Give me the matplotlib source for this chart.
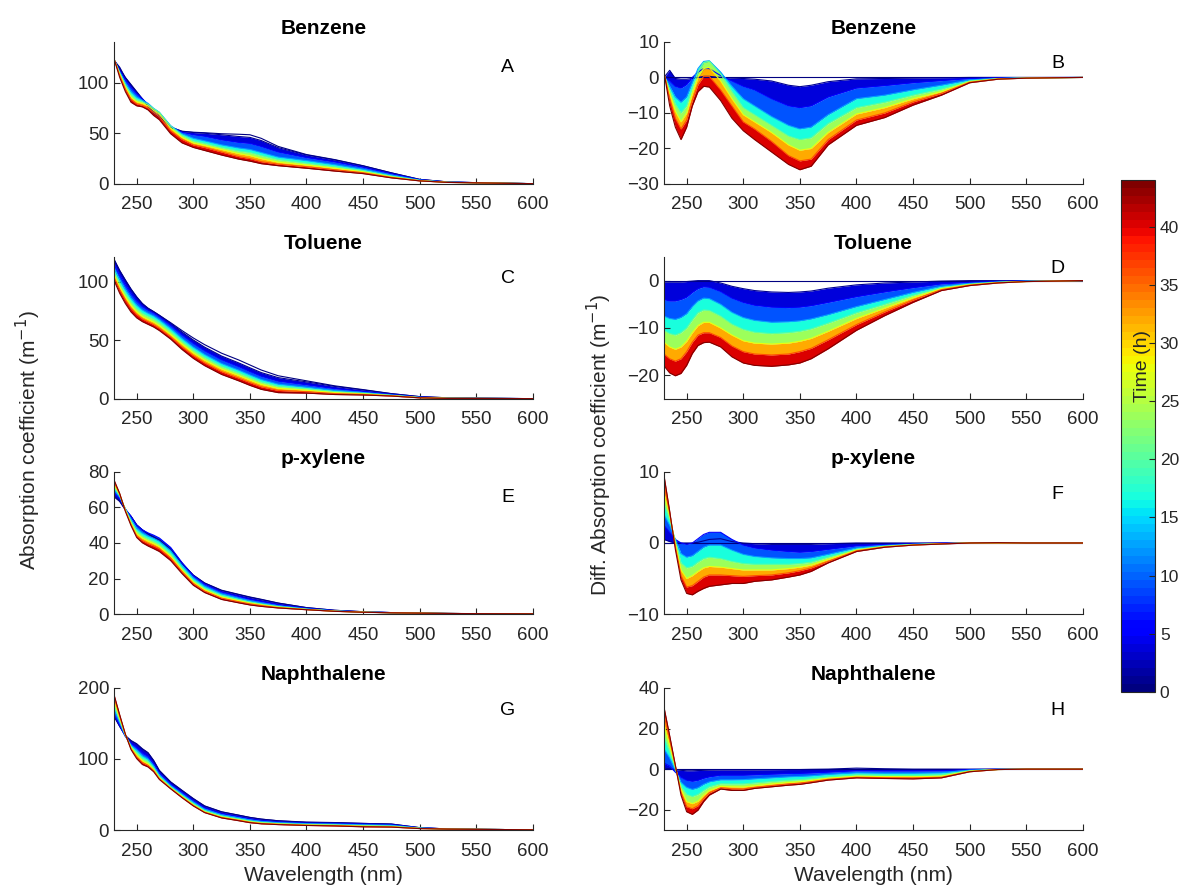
import numpy as np
import matplotlib.pyplot as plt
from matplotlib.colors import Normalize
from matplotlib.cm import ScalarMappable

plt.rcParams['font.family'] = ['Liberation Sans', 'DejaVu Sans']

# wavelengths (nm) at which the spectra were read
wavelength = [230, 235, 240, 245, 250, 255, 260, 265, 270, 280, 290, 300, 310, 325,
              340, 350, 360, 375, 400, 425, 450, 475, 500, 525, 550, 600]
# irradiation times (h) of the drawn curves after t = 0
times = [1, 6, 13, 20, 28, 36, 44]
t_max = 44

# absorption spectra at t = 0 (m^-1)
benzene_t0 = [122, 113, 105, 98, 91, 84, 77, 70, 66, 56, 52, 51, 50.5, 49.5,
              49, 48.5, 45, 37, 29, 24, 18, 11, 4.5, 2, 1.3, 0.3]
toluene_t0 = [119, 109.5, 101.4, 93.7, 87, 81.3, 77.3, 74.4, 71.3, 65, 58.3, 52, 46.3, 39,
              33.3, 29, 24.7, 19.8, 15.5, 11.2, 8, 4.6, 2, 1.0, 0.7, 0.3]
pxylene_t0 = [66, 63.4, 58.7, 55, 50.2, 47.4, 45.1, 43.2, 41.3, 36, 28.5, 21.9, 17.5, 13.4,
              11.1, 9.6, 8.3, 6.2, 3.6, 2.1, 1.3, 0.8, 0.5, 0.3, 0.2, 0.1]
naphthalene_t0 = [160, 145.8, 133, 126, 121.5, 114.5, 109, 98, 84, 67.8, 56, 44.4, 34, 25.7,
                  21, 17.8, 15.4, 13, 10.7, 10.3, 9.3, 8.4, 3.3, 1.5, 1.0, 0.3]

# difference spectra A(t) - A(0), one row per entry of `times`
benzene_diff = [
    [0, 2.0, -0.3, -0.5, -0.5, -0.3, 0, 0.3, 0.3, 0, -0.2, -0.3, -0.5, -1.0, -2.2, -2.6, -2.2, -1.2, -0.4, -0.3, -0.2, -0.1, 0, 0, 0, 0],
    [0.2, -1.0, -2.5, -3.0, -2.0, 0, 1.5, 2.5, 2.5, 0.5, -1.0, -2.5, -3.5, -6.0, -8.0, -8.5, -8.0, -5.5, -3.0, -2.3, -1.5, -0.9, -0.3, -0.1, -0.05, 0],
    [0.5, -2.5, -5.5, -7.0, -5.5, -1.5, 2.5, 4.5, 4.7, 1.5, -2.5, -6.0, -8.0, -11.0, -13.5, -14.5, -14.0, -10.5, -6.0, -5.0, -3.5, -2.2, -0.7, -0.3, -0.1, 0],
    [0.8, -3.5, -7.5, -10.0, -8.0, -3.0, 1.5, 4.2, 4.6, 1.0, -4.0, -8.5, -10.5, -13.5, -16.5, -17.5, -17.0, -13.0, -8.5, -7.0, -5.0, -3.3, -1.0, -0.35, -0.15, 0],
    [1.0, -4.5, -9.5, -12.5, -10.0, -4.5, 0, 2.5, 2.8, -1.0, -6.0, -10.5, -12.5, -15.5, -19.0, -20.5, -20.0, -15.5, -10.3, -8.5, -6.0, -4.0, -1.2, -0.4, -0.2, 0],
    [1.2, -6.0, -11.5, -14.5, -12.0, -6.5, -2.0, 0.3, 0.3, -3.5, -8.0, -12.5, -14.5, -18.0, -22.0, -23.5, -23.0, -17.5, -12.0, -10.0, -6.9, -4.5, -1.35, -0.45, -0.2, 0],
    [1.5, -8.0, -14.0, -17.5, -14.0, -8.0, -4.0, -2.5, -2.7, -6.5, -11.5, -15.0, -17.5, -21.0, -24.5, -26.0, -25.0, -19.0, -13.5, -11.3, -7.8, -5.0, -1.5, -0.5, -0.2, 0],
]
toluene_diff = [
    [-0.3, -0.3, -0.3, -0.3, -0.2, -0.1, 0, 0, 0, -0.5, -1.2, -1.7, -2.1, -2.4, -2.5, -2.4, -2.2, -1.6, -0.9, -0.5, -0.3, -0.1, 0, 0, 0, 0],
    [-4, -4.3, -4.3, -4, -3.5, -2.5, -1.7, -1.3, -1.4, -2.3, -3.7, -4.6, -5.2, -5.6, -5.7, -5.6, -5.3, -4.6, -3.4, -2.4, -1.5, -0.7, -0.35, -0.15, -0.05, 0],
    [-7.5, -8, -8.2, -7.8, -7, -5.5, -4.3, -3.7, -3.8, -5, -6.7, -7.8, -8.4, -8.8, -8.7, -8.5, -8.1, -7.2, -5.5, -4, -2.5, -1.2, -0.6, -0.3, -0.1, 0],
    [-10.5, -11.2, -11.5, -11, -10, -8.3, -6.8, -6.2, -6.3, -7.5, -9.2, -10.3, -10.9, -11.2, -11, -10.7, -10.2, -9, -6.8, -5, -3.1, -1.5, -0.75, -0.35, -0.15, 0],
    [-13, -14, -14.5, -14, -12.8, -11, -9.5, -8.8, -8.8, -10, -11.5, -12.7, -13.2, -13.4, -13.2, -12.8, -12.2, -10.7, -8, -5.8, -3.6, -1.7, -0.85, -0.4, -0.2, 0],
    [-15.5, -16.5, -17, -16.5, -15, -13, -11.5, -11, -11, -12, -13.8, -15, -15.5, -15.7, -15.5, -15, -14.3, -12.5, -9.3, -6.6, -4.1, -1.9, -0.95, -0.45, -0.2, 0],
    [-18, -19.5, -20.1, -19.6, -17.9, -15.4, -13.7, -13.1, -13, -14, -16.1, -17.4, -17.9, -18.1, -17.8, -17.4, -16.5, -14.4, -10.5, -7.4, -4.6, -2.1, -1.05, -0.5, -0.2, 0],
]
pxylene_diff = [
    [0.5, 0.2, 0, 0, 0, 0, 0.1, 0.3, 0.5, 0.6, 0.2, 0, -0.1, -0.2, -0.2, -0.2, -0.2, -0.1, 0, 0, 0, 0, 0, 0, 0, 0],
    [2.5, 1.5, 0.5, 0, -0.2, 0, 0.6, 1.2, 1.5, 1.5, 0.5, -0.3, -0.7, -1.0, -1.2, -1.3, -1.2, -0.9, -0.4, -0.2, -0.1, 0, 0, 0, 0, 0],
    [4, 2.5, 0.5, -1.5, -2, -1.8, -1.2, -0.6, -0.3, -0.3, -1, -1.6, -1.9, -2.1, -2.2, -2.2, -2.1, -1.6, -0.7, -0.35, -0.2, -0.1, 0, 0, 0, 0],
    [5.5, 3.3, 0.3, -2.8, -3.5, -3.3, -2.7, -2.2, -2, -2.2, -2.6, -2.9, -3.0, -3.0, -3.0, -2.9, -2.7, -2.0, -0.9, -0.45, -0.2, -0.1, 0, 0, 0, 0],
    [7, 3.8, 0, -3.8, -5, -4.6, -4, -3.5, -3.3, -3.4, -3.6, -3.8, -3.8, -3.8, -3.6, -3.4, -3.1, -2.3, -1.0, -0.5, -0.25, -0.1, 0, 0, 0, 0],
    [8.3, 4.2, -0.5, -4.6, -6.2, -6, -5.4, -4.8, -4.5, -4.5, -4.6, -4.7, -4.6, -4.5, -4.2, -3.9, -3.5, -2.6, -1.1, -0.55, -0.3, -0.1, 0, 0, 0, 0],
    [9.5, 4.5, -0.9, -5.2, -7.1, -7.3, -6.8, -6.4, -6.1, -5.9, -5.7, -5.7, -5.4, -5.2, -4.8, -4.5, -4.0, -2.8, -1.2, -0.6, -0.3, -0.15, 0, 0.05, 0, 0],
]
naphthalene_diff = [
    [0.5, 0.2, -0.3, -0.6, -0.8, -0.8, -0.7, -0.6, -0.5, -0.4, -0.4, -0.4, -0.4, -0.3, -0.2, -0.2, -0.1, 0, 0.5, 0.2, 0, 0, 0, 0, 0, 0],
    [3, 1.5, -1.5, -4, -5.5, -6, -5.5, -4.5, -3.8, -3, -3, -3, -2.8, -2.5, -2.2, -2.1, -1.9, -1.5, -0.8, -0.9, -0.9, -0.8, -0.2, 0, 0, 0],
    [10, 5.5, -0.5, -6.5, -9, -10, -9.2, -7.5, -6.3, -5.3, -5.3, -5.2, -4.8, -4.3, -3.8, -3.6, -3.3, -2.6, -1.8, -2, -2, -1.8, -0.5, -0.1, 0, 0],
    [16, 8.5, 0.5, -8.5, -12.5, -13.5, -12.5, -10.5, -8.7, -7.2, -7.3, -7.3, -6.8, -6.1, -5.5, -5.2, -4.7, -3.8, -2.8, -3, -3.1, -2.8, -0.8, -0.15, 0, 0],
    [22, 11.5, 1.2, -10, -16, -17, -15.8, -12.8, -10.5, -8.5, -8.7, -8.8, -8.2, -7.3, -6.6, -6.2, -5.6, -4.5, -3.5, -3.7, -3.8, -3.5, -1.0, -0.2, 0, 0],
    [27, 14.5, 1.7, -11.5, -18.5, -19.5, -18, -14.5, -11.7, -9.2, -9.7, -9.8, -9, -8.1, -7.3, -6.9, -6.2, -5, -4, -4.2, -4.3, -4, -1.2, -0.2, 0, 0],
    [30.5, 16.5, 2, -12.8, -21, -22.3, -20.2, -16, -12.8, -9.8, -10.5, -10.5, -9.5, -8.7, -7.9, -7.5, -6.7, -5.4, -4.3, -4.6, -4.8, -4.3, -1.3, -0.2, 0, 0],
]

compounds = ['Benzene', 'Toluene', 'p-xylene', 'Naphthalene']
spectra_t0 = [benzene_t0, toluene_t0, pxylene_t0, naphthalene_t0]
diff_spectra = [benzene_diff, toluene_diff, pxylene_diff, naphthalene_diff]

abs_ylims = [(0, 140), (0, 121), (0, 80), (0, 200)]
abs_yticks = [[0, 50, 100], [0, 50, 100], [0, 20, 40, 60, 80], [0, 100, 200]]
diff_ylims = [(-30, 10), (-25, 5), (-10, 10), (-30, 40)]
diff_yticks = [[-30, -20, -10, 0, 10], [-20, -10, 0], [-10, 0, 10], [-20, 0, 20, 40]]
letters = [('A', 'B'), ('C', 'D'), ('E', 'F'), ('G', 'H')]
letter_y = [(0.82, 0.845), (0.845, 0.92), (0.82, 0.84), (0.84, 0.84)]

cmap = plt.get_cmap('jet', 64)
norm = Normalize(vmin=0, vmax=t_max)
axis_color = '#262626'


def draw_family(ax, curves):
    all_times = [0] + times
    ax.plot(wavelength, curves[0], color=cmap(norm(0)), lw=0.8)
    ax.plot(wavelength, curves[1], color=cmap(norm(all_times[1])), lw=0.8)
    for k in range(1, len(curves) - 1):
        mid = 0.5 * (all_times[k] + all_times[k + 1])
        ax.fill_between(wavelength, curves[k], curves[k + 1], color=cmap(norm(mid)), lw=0)
        ax.plot(wavelength, curves[k + 1], color=cmap(norm(all_times[k + 1])), lw=0.8)


def style_axes(ax, title, letter, ly, ylim, yticks):
    ax.set_xlim(230, 600)
    ax.set_ylim(*ylim)
    ax.set_xticks(range(250, 601, 50))
    ax.set_yticks(yticks)
    for side in ['top', 'right']:
        ax.spines[side].set_visible(False)
    for side in ['left', 'bottom']:
        ax.spines[side].set_color(axis_color)
        ax.spines[side].set_linewidth(0.8)
    ax.tick_params(direction='in', length=4, labelsize=13.5, colors=axis_color)
    ax.tick_params(axis='x', pad=9)
    ax.set_title(title, fontsize=15, fontweight='bold', pad=6)
    ax.text(0.94, ly, letter, transform=ax.transAxes, fontsize=14,
            ha='center', va='center', color='black')


fig = plt.figure(figsize=(11.83, 8.9), dpi=100)

left_x, right_x = 0.0964, 0.5613
width, height = 0.354, 0.1596
bottoms = [0.7933, 0.5517, 0.3101, 0.0674]

for i, name in enumerate(compounds):
    diffs = [np.zeros(len(wavelength))] + [np.array(d) for d in diff_spectra[i]]
    a0 = np.array(spectra_t0[i])
    absorb = [a0 + d for d in diffs]

    ax_a = fig.add_axes([left_x, bottoms[i], width, height])
    draw_family(ax_a, absorb)
    style_axes(ax_a, name, letters[i][0], letter_y[i][0], abs_ylims[i], abs_yticks[i])

    ax_d = fig.add_axes([right_x, bottoms[i], width, height])
    draw_family(ax_d, diffs)
    style_axes(ax_d, name, letters[i][1], letter_y[i][1], diff_ylims[i], diff_yticks[i])

    if i == 3:
        ax_a.set_xlabel('Wavelength (nm)', fontsize=15, color=axis_color, labelpad=5)
        ax_d.set_xlabel('Wavelength (nm)', fontsize=15, color=axis_color, labelpad=5)

fig.text(0.0237, 0.506, 'Absorption coefficient (m$^{-1}$)', rotation=90,
         ha='center', va='center', fontsize=15, color=axis_color)
fig.text(0.507, 0.5, 'Diff. Absorption coefficient (m$^{-1}$)', rotation=90,
         ha='center', va='center', fontsize=15, color=axis_color)

cax = fig.add_axes([0.9476, 0.2225, 0.0287, 0.5753])
cb = fig.colorbar(ScalarMappable(norm=norm, cmap=cmap), cax=cax)
cb.set_ticks(range(0, 41, 5))
cb.outline.set_edgecolor(axis_color)
cb.outline.set_linewidth(0.8)
cax.tick_params(direction='in', length=4, labelsize=12.5, colors=axis_color)
cax.text(0.62, 0.636, 'Time (h)', rotation=90, transform=cax.transAxes,
         ha='center', va='center', fontsize=14, color=axis_color)

fig.savefig('out.png', dpi=100)
